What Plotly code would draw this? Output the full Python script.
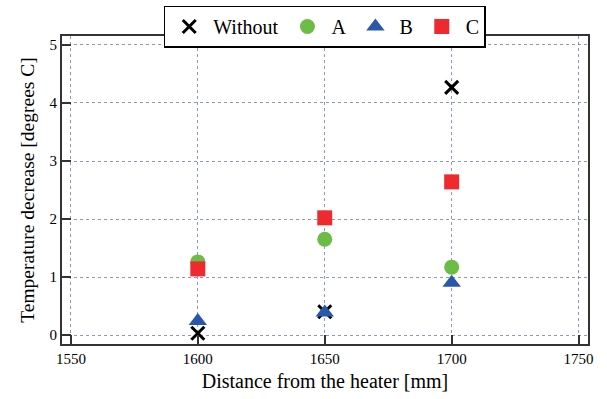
import plotly.graph_objects as go

distance = [1600, 1650, 1700]
without = [0.03, 0.40, 4.27]
series_a = [1.26, 1.65, 1.17]
series_b = [0.24, 0.39, 0.90]
series_c = [1.14, 2.02, 2.64]
x_ticks = [1550, 1600, 1650, 1700, 1750]
y_ticks = [0, 1, 2, 3, 4, 5]

FONT = "Liberation Serif, Times New Roman, serif"
GRID = "rgba(95,115,200,0.75)"
FRAME = "#333333"

fig = go.Figure()
fig.add_trace(go.Scatter(x=distance, y=without, mode="markers", name="Without",
                         marker=dict(symbol="x-thin", size=13, color="black",
                                     line=dict(color="black", width=3))))
fig.add_trace(go.Scatter(x=distance, y=series_a, mode="markers", name="A",
                         marker=dict(symbol="circle", size=15, color="#6cbd45")))
fig.add_trace(go.Scatter(x=distance, y=series_b, mode="markers", name="B",
                         marker=dict(symbol="triangle-up", size=16, color="#2a58a8")))
fig.add_trace(go.Scatter(x=distance, y=series_c, mode="markers", name="C",
                         marker=dict(symbol="square", size=15, color="#ee2a2e")))

fig.update_layout(
    width=607, height=399,
    margin=dict(l=62, r=19, t=36, b=55, autoexpand=False),
    paper_bgcolor="white", plot_bgcolor="white",
    font=dict(family=FONT, color="black", size=15),
    showlegend=True,
    legend=dict(orientation="h", x=0.535, xref="container", xanchor="center",
                y=1 - 26.5 / 399, yref="container", yanchor="middle",
                itemwidth=38,
                bgcolor="white", bordercolor="black", borderwidth=1.5,
                font=dict(family=FONT, size=20, color="black")),
    xaxis=dict(range=[1546.5, 1753.7], tickvals=x_ticks,
               showgrid=True, gridcolor=GRID, griddash="dot", gridwidth=1,
               zeroline=False, showline=True, linecolor=FRAME, linewidth=2, mirror=True,
               ticks="inside", ticklen=9, tickwidth=1.5, tickcolor=FRAME,
               tickfont=dict(family=FONT, size=15), automargin=False,
               title=dict(text="Distance from the heater [mm]",
                          font=dict(family=FONT, size=20), standoff=8)),
    yaxis=dict(range=[-0.155, 5.155], tickvals=y_ticks,
               showgrid=True, gridcolor=GRID, griddash="dot", gridwidth=1,
               zeroline=False, showline=True, linecolor=FRAME, linewidth=2, mirror=True,
               ticks="inside", ticklen=9, tickwidth=1.5, tickcolor=FRAME,
               tickfont=dict(family=FONT, size=15), automargin=False,
               title=dict(text="Temperature decrease [degrees C]",
                          font=dict(family=FONT, size=19.5), standoff=10)),
)

fig.write_html("out.html", config={"displayModeBar": False},
               post_script="document.body.style.margin='0';")
